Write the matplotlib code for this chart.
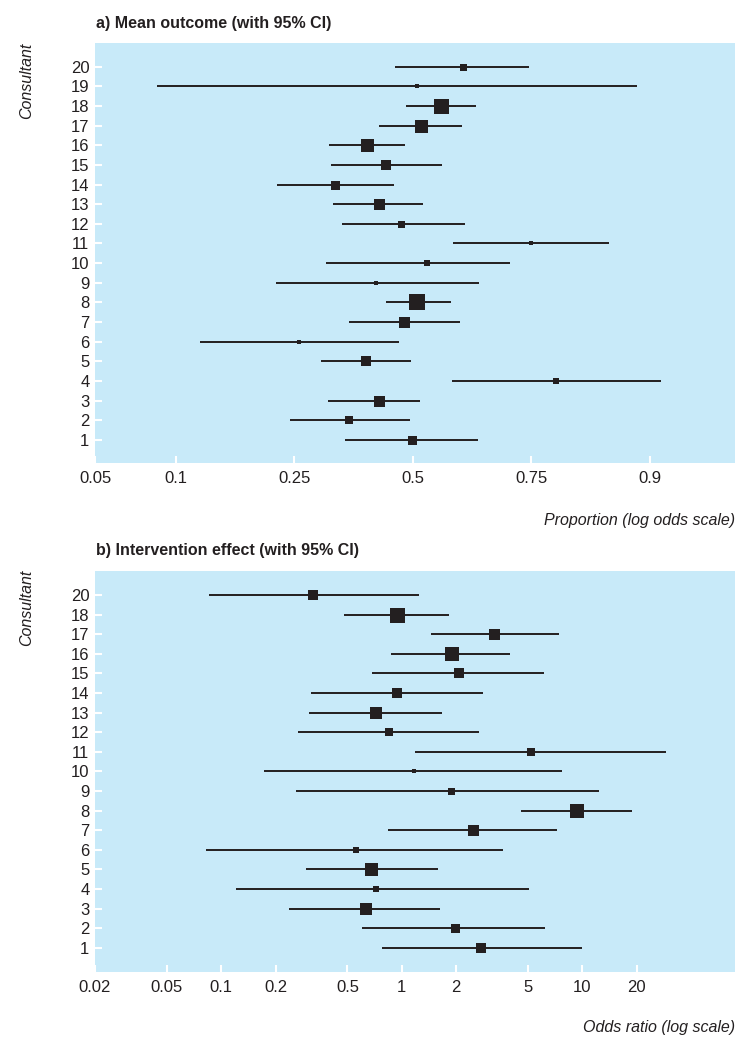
import numpy as np
import matplotlib
matplotlib.use("Agg")
import matplotlib.pyplot as plt
from matplotlib import font_manager
from matplotlib.ticker import NullLocator, FixedLocator, FixedFormatter

# panel a: mean outcome per consultant (proportions)
consult_a = list(range(1, 21))
est_a = [0.498, 0.356, 0.423, 0.790, 0.393, 0.258, 0.480, 0.511, 0.416, 0.532,
         0.750, 0.473, 0.423, 0.328, 0.438, 0.396, 0.519, 0.565, 0.509, 0.614]
lo_a = [0.348, 0.243, 0.313, 0.589, 0.299, 0.122, 0.357, 0.439, 0.220, 0.310,
        0.593, 0.341, 0.324, 0.221, 0.320, 0.316, 0.423, 0.484, 0.0856, 0.460]
hi_a = [0.646, 0.493, 0.518, 0.909, 0.496, 0.468, 0.608, 0.587, 0.649, 0.711,
        0.860, 0.618, 0.524, 0.456, 0.568, 0.483, 0.613, 0.642, 0.889, 0.746]
weight_a = [9, 8, 11, 6, 10, 5, 11, 16, 5, 6, 5, 7, 11, 9, 10, 13, 13, 15, 4, 7]
xticks_a = [0.05, 0.1, 0.25, 0.5, 0.75, 0.9]
xlabels_a = ["0.05", "0.1", "0.25", "0.5", "0.75", "0.9"]

# panel b: intervention effect (odds ratios), no consultant 19
consult_b = [1, 2, 3, 4, 5, 6, 7, 8, 9, 10, 11, 12, 13, 14, 15, 16, 17, 18, 20]
est_b = [2.74, 1.975, 0.631, 0.718, 0.679, 0.556, 2.47, 9.35, 1.88, 1.17,
         5.19, 0.847, 0.718, 0.938, 2.07, 1.89, 3.25, 0.942, 0.324]
lo_b = [0.772, 0.602, 0.238, 0.120, 0.295, 0.0822, 0.833, 4.57, 0.258, 0.172,
        1.18, 0.267, 0.308, 0.313, 0.684, 0.872, 1.448, 0.479, 0.0853]
hi_b = [9.93, 6.24, 1.63, 5.04, 1.59, 3.62, 7.21, 18.7, 12.4, 7.75,
        28.9, 2.66, 1.673, 2.80, 6.11, 3.96, 7.40, 1.83, 1.238]
weight_b = [10, 9, 12, 6, 13, 6, 11, 14, 7, 5, 8, 8, 12, 10, 10, 14, 11, 15, 10]
xticks_b = [0.02, 0.05, 0.1, 0.2, 0.5, 1, 2, 5, 10, 20]
xlabels_b = ["0.02", "0.05", "0.1", "0.2", "0.5", "1", "2", "5", "10", "20"]

names = {f.name for f in font_manager.fontManager.ttflist}
fam = "Liberation Sans Narrow" if "Liberation Sans Narrow" in names else "Liberation Sans"
plt.rcParams['font.family'] = [fam, 'DejaVu Sans']

BG = '#c8eaf9'
INK = '#231f20'

fig = plt.figure(figsize=(7.47, 10.39), dpi=100)
ax1 = fig.add_axes([0.1272, 0.5544, 0.8568, 0.4042])
ax2 = fig.add_axes([0.1272, 0.0648, 0.8568, 0.3856])


def forest(ax, est, lo, hi, w):
    ypos = np.arange(1, len(est) + 1)
    ax.hlines(ypos, lo, hi, color=INK, lw=1.4, zorder=2)
    for y, e, s in zip(ypos, est, w):
        ax.plot(e, y, marker='s', ms=s * 0.72, color=INK, mew=0, zorder=3)
    ax.set_facecolor(BG)
    for sp in ax.spines.values():
        sp.set_visible(False)
    ax.set_yticks(ypos)
    ax.tick_params(axis='both', direction='in', colors='white', length=5,
                   width=1.5, labelcolor=INK, labelsize=12)
    ax.tick_params(axis='y', pad=4)
    ax.tick_params(axis='x', pad=6)
    return ypos


y1 = forest(ax1, est_a, lo_a, hi_a, weight_a)
ax1.set_xscale('logit')
ax1.set_xlim(0.05, 0.952)
ax1.xaxis.set_major_locator(FixedLocator(xticks_a))
ax1.xaxis.set_major_formatter(FixedFormatter(xlabels_a))
ax1.xaxis.set_minor_locator(NullLocator())
ax1.set_yticklabels([str(c) for c in consult_a])
ax1.set_ylim(-0.17, 21.2)

y2 = forest(ax2, est_b, lo_b, hi_b, weight_b)
ax2.set_xscale('log')
ax2.set_xlim(0.02, 70)
ax2.xaxis.set_major_locator(FixedLocator(xticks_b))
ax2.xaxis.set_major_formatter(FixedFormatter(xlabels_b))
ax2.xaxis.set_minor_locator(NullLocator())
ax2.set_yticklabels([str(c) for c in consult_b])
ax2.set_ylim(-0.22, 20.22)

fig.text(0.128, 0.977, "a) Mean outcome (with 95% CI)", fontsize=11.5,
         fontweight='bold', color=INK, va='center', ha='left')
fig.text(0.035, 0.9586, "Consultant", fontsize=11.5, style='italic',
         color=INK, rotation=90, va='top', ha='center')
fig.text(0.984, 0.4995, "Proportion (log odds scale)", fontsize=11.5,
         style='italic', color=INK, va='center', ha='right')

fig.text(0.128, 0.4697, "b) Intervention effect (with 95% CI)", fontsize=11.5,
         fontweight='bold', color=INK, va='center', ha='left')
fig.text(0.035, 0.4514, "Consultant", fontsize=11.5, style='italic',
         color=INK, rotation=90, va='top', ha='center')
fig.text(0.984, 0.0106, "Odds ratio (log scale)", fontsize=11.5,
         style='italic', color=INK, va='center', ha='right')

fig.savefig("out.png", dpi=100)
